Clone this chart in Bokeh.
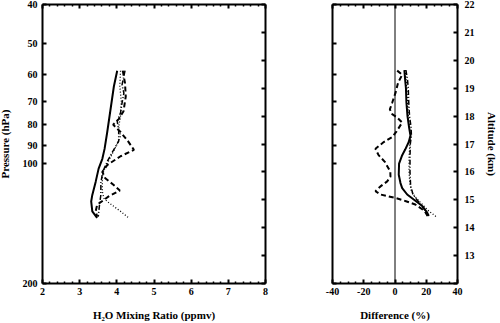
from bokeh.plotting import figure
from bokeh.models import (LinearAxis, LogAxis, Range1d, LinearScale, LogScale,
                          FixedTicker, Span)
from bokeh.layouts import row
from bokeh.embed import file_html
from bokeh.resources import INLINE

# ---------------- data ----------------
# Left panel: H2O mixing ratio (ppmv) vs pressure (hPa)
solid_p = [58.6, 64.2, 73.3, 83.7, 92.0, 97.4, 103.1, 111.3, 120.0, 124.6, 131.9, 137.0]
solid_v = [4.01, 3.92, 3.83, 3.74, 3.67, 3.61, 3.51, 3.43, 3.34, 3.31, 3.34, 3.47]

dashed_p = [58.6, 63, 68, 74, 77.5, 80, 83.5, 88, 92.5, 96, 101, 105, 109, 113, 117, 121, 127, 132, 136]
dashed_v = [4.16, 4.22, 4.24, 4.18, 4.05, 3.90, 4.10, 4.30, 4.46, 4.10, 3.74, 3.61, 3.69, 3.90, 4.08, 3.78, 3.47, 3.43, 3.47]

dotted_p = [58.6, 64, 70, 76, 81, 85.3, 89.4, 92.9, 96.5, 100.2, 104.2, 108.2, 117.7, 122.3, 124.6, 128.2, 131.9, 137.0]
dotted_v = [4.10, 4.08, 4.12, 4.10, 4.05, 4.10, 4.01, 3.92, 3.83, 3.74, 3.65, 3.61, 3.61, 3.65, 3.74, 3.92, 4.10, 4.32]

dashdot_p = [58.6, 63.6, 66.7, 70.6, 74.7, 78.3, 83, 88, 93, 99, 105, 112, 120, 128, 136]
dashdot_v = [4.22, 4.14, 4.19, 4.14, 4.10, 4.01, 4.05, 4.05, 3.90, 3.74, 3.62, 3.57, 3.57, 3.53, 3.50]

# Right panel: difference (%) vs altitude (km)
r_solid_z = [19.65, 19.3, 19.0, 18.5, 18.0, 17.6, 17.3, 17.07, 16.8, 16.6, 16.3, 15.9, 15.6, 15.42, 15.19, 15.01, 14.78, 14.54, 14.42]
r_solid_d = [6.0, 6.5, 7.0, 7.3, 8.0, 9.0, 9.9, 8.8, 6.5, 4.6, 2.6, 2.4, 3.5, 4.6, 7.8, 12.0, 17.4, 20.6, 21.6]

r_dashed_z = [19.63, 19.48, 19.2, 18.83, 18.48, 18.24, 18.07, 17.95, 17.77, 17.45, 17.25, 17.07, 16.83, 16.6, 16.36, 16.01, 15.83, 15.66, 15.48, 15.31, 15.19, 15.07, 14.95, 14.83, 14.60, 14.40]
r_dashed_d = [1.4, 4.6, 2.0, 0.3, -1.8, -3.3, -1.8, 1.4, 4.6, 1.0, -1.8, -7.2, -12.5, -10.5, -6.5, -3.0, -2.9, -5.0, -9.3, -12.5, -9.3, 0.0, 7.0, 13.0, 19.0, 21.0]

r_dotted_z = [19.65, 19.0, 18.0, 17.3, 17.0, 16.5, 16.0, 15.6, 15.3, 15.1, 14.9, 14.6, 14.39]
r_dotted_d = [6.5, 7.5, 8.5, 10.0, 9.5, 9.0, 9.0, 9.5, 10.5, 13.0, 16.3, 21.6, 26.5]

r_dashdot_z = [19.65, 19.3, 19.0, 18.5, 18.0, 17.6, 17.3, 17.0, 16.5, 16.0, 15.5, 15.2, 15.0, 14.8, 14.6, 14.45]
r_dashdot_d = [7.0, 8.0, 8.5, 8.8, 9.3, 10.3, 10.5, 9.8, 9.6, 9.6, 10.0, 11.5, 14.0, 17.0, 19.5, 20.5]

p_ticks = [40, 50, 60, 70, 80, 90, 100, 200]
p_labels = ["40", "50", "60", "70", "80", "90", "100", "200"]
alt_ticks = [12, 13, 14, 15, 16, 17, 18, 19, 20, 21, 22]
alt_labels = ["", "13", "14", "15", "16", "17", "18", "19", "20", "21", "22"]
mr_ticks = [2, 3, 4, 5, 6, 7, 8]
diff_ticks = [-40, -20, 0, 20, 40]
diff_labels = ["-40", "-20", "0", "20", "40"]

P_RANGE = (200, 40)
ALT_RANGE = (12, 22)

FONT = "Liberation Serif"


def style(ax):
    ax.axis_line_width = 2
    ax.axis_line_color = "black"
    ax.major_tick_in = 4
    ax.major_tick_out = 0
    ax.minor_tick_in = 2
    ax.minor_tick_out = 0
    ax.major_tick_line_width = 2
    ax.minor_tick_line_width = 1.5
    ax.major_label_text_font = FONT
    ax.major_label_text_font_style = "bold"
    ax.major_label_text_font_size = "10px"
    ax.major_label_text_color = "black"
    ax.axis_label_text_font = FONT
    ax.axis_label_text_font_style = "bold"
    ax.axis_label_text_font_size = "11px"
    ax.axis_label_text_color = "black"
    return ax


def blank(ax, ticks):
    ax.major_label_overrides = {t: "" for t in ticks}
    ax.major_label_standoff = 0
    return ax


# ---------------- left panel ----------------
p1 = figure(width=306, height=331, output_backend="svg", toolbar_location=None,
            x_range=Range1d(2, 8), y_range=Range1d(*P_RANGE), y_axis_type="log",
            x_axis_location=None, y_axis_location=None,
            min_border_left=50, min_border_right=33, min_border_top=12, min_border_bottom=36)
p1.outline_line_color = None
p1.grid.visible = False
p1.extra_y_ranges = {"alt": Range1d(*ALT_RANGE)}
p1.extra_y_scales = {"alt": LinearScale()}

mr_minor = [2 + 0.2 * i for i in range(31) if i % 5]
ax = style(LinearAxis(ticker=FixedTicker(ticks=mr_ticks, minor_ticks=mr_minor),
                      axis_label="H₂O Mixing Ratio (ppmv)"))
ax.major_label_standoff = 4
ax.axis_label_standoff = 11
p1.add_layout(ax, "below")
ax = blank(style(LinearAxis(ticker=FixedTicker(ticks=mr_ticks, minor_ticks=mr_minor))), mr_ticks)
p1.add_layout(ax, "above")
ax = style(LogAxis(ticker=FixedTicker(ticks=p_ticks, minor_ticks=[]), axis_label="Pressure (hPa)"))
ax.major_label_overrides = dict(zip(p_ticks, p_labels))
ax.major_label_standoff = 5
ax.axis_label_standoff = 9
p1.add_layout(ax, "left")
ax = blank(style(LinearAxis(y_range_name="alt", ticker=FixedTicker(ticks=alt_ticks, minor_ticks=[]))), alt_ticks)
p1.add_layout(ax, "right")

p1.line(solid_v, solid_p, line_color="black", line_width=2)
p1.line(dashed_v, dashed_p, line_color="black", line_width=2, line_dash="5 3")
p1.line(dotted_v, dotted_p, line_color="black", line_width=1.3, line_dash="1 2")
p1.line(dashdot_v, dashdot_p, line_color="black", line_width=1.5, line_dash="5 2 1 2")

# ---------------- right panel ----------------
p2 = figure(width=202, height=331, output_backend="svg", toolbar_location=None,
            x_range=Range1d(-40, 40), y_range=Range1d(*ALT_RANGE),
            x_axis_location=None, y_axis_location=None,
            min_border_left=34, min_border_right=43, min_border_top=12, min_border_bottom=36)
p2.outline_line_color = None
p2.grid.visible = False
p2.extra_y_ranges = {"p": Range1d(*P_RANGE)}
p2.extra_y_scales = {"p": LogScale()}

diff_minor = [-40 + 5 * i for i in range(17) if i % 4]
ax = style(LinearAxis(ticker=FixedTicker(ticks=diff_ticks, minor_ticks=diff_minor),
                      axis_label="Difference (%)"))
ax.major_label_overrides = dict(zip(diff_ticks, diff_labels))
ax.major_label_standoff = 4
ax.axis_label_standoff = 11
p2.add_layout(ax, "below")
ax = blank(style(LinearAxis(ticker=FixedTicker(ticks=diff_ticks, minor_ticks=diff_minor))), diff_ticks)
p2.add_layout(ax, "above")
ax = blank(style(LogAxis(y_range_name="p", ticker=FixedTicker(ticks=p_ticks, minor_ticks=[]))), p_ticks)
p2.add_layout(ax, "left")
ax = style(LinearAxis(ticker=FixedTicker(ticks=alt_ticks, minor_ticks=[]), axis_label="Altitude (km)"))
ax.major_label_overrides = dict(zip(alt_ticks, alt_labels))
ax.major_label_standoff = 7
ax.axis_label_standoff = 8
p2.add_layout(ax, "right")

p2.add_layout(Span(location=0, dimension="height", line_color="black", line_width=1))
p2.line(r_solid_d, r_solid_z, line_color="black", line_width=2)
p2.line(r_dashed_d, r_dashed_z, line_color="black", line_width=2, line_dash="5 3")
p2.line(r_dotted_d, r_dotted_z, line_color="black", line_width=1.3, line_dash="1 2")
p2.line(r_dashdot_d, r_dashdot_z, line_color="black", line_width=1.5, line_dash="5 2 1 2")

layout = row(p1, p2, margin=(-8, 0, 0, -8))

with open("out.html", "w") as f:
    f.write(file_html(layout, INLINE))
